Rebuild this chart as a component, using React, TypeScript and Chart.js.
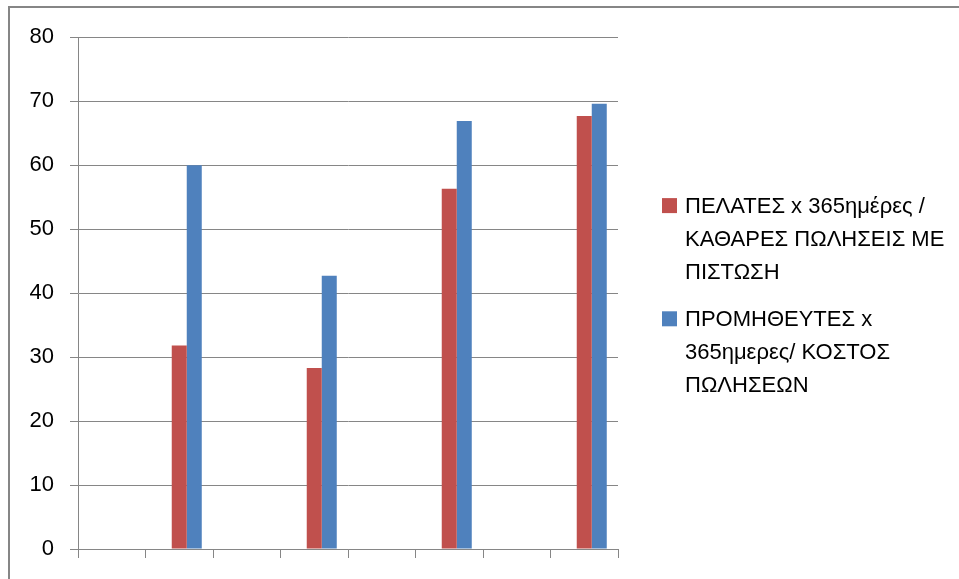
import React, { useEffect, useRef } from "react";
import { Chart, registerables } from "chart.js";

Chart.register(...registerables);

// Data
const categories = ["", "", "", "", "", "", "", ""];
const emptySeries = [null, null, null, null, null, null, null, null];
const customerDays = [null, 31.8, null, 28.3, null, 56.3, null, 67.7];
const supplierDays = [null, 60.0, null, 42.7, null, 66.9, null, 69.6];
const customerLabel = ["ΠΕΛΑΤΕΣ x 365ημέρες /", "ΚΑΘΑΡΕΣ ΠΩΛΗΣΕΙΣ ΜΕ", "ΠΙΣΤΩΣΗ"];
const supplierLabel = ["ΠΡΟΜΗΘΕΥΤΕΣ x", "365ημερες/ ΚΟΣΤΟΣ", "ΠΩΛΗΣΕΩΝ"];
const yMin = 0;
const yMax = 80;
const yStep = 10;

const RED = "#C0504D";
const BLUE = "#4F81BD";
const GRID = "#868686";
const FONT = "'Liberation Sans', Arial, sans-serif";

const legendLines = [customerLabel, supplierLabel];

const sideLegend = {
  id: "sideLegend",
  afterDraw(chart: any) {
    const ctx = chart.ctx;
    const items = chart.data.datasets
      .filter((ds: any) => ds.legendIndex !== undefined)
      .map((ds: any) => ({ lines: legendLines[ds.legendIndex], color: ds.backgroundColor }));
    const lineH = 33.3;
    const gap = 13.3;
    const box = 15;
    const total =
      items.reduce((s: number, it: any) => s + it.lines.length * lineH, 0) + gap * (items.length - 1);
    let y = chart.height / 2 - total / 2 + 2;
    const x = chart.chartArea.right + 44;
    ctx.save();
    ctx.font = `22px ${FONT}`;
    ctx.textBaseline = "middle";
    ctx.textAlign = "left";
    items.forEach((it: any) => {
      const cy = y + lineH / 2;
      ctx.fillStyle = it.color;
      ctx.fillRect(x, cy - box / 2, box, box);
      ctx.fillStyle = "#000000";
      it.lines.forEach((l: string, k: number) => ctx.fillText(l, x + 23, cy + 1 + k * lineH));
      y += it.lines.length * lineH + gap;
    });
    ctx.restore();
  },
};

export default function App() {
  const ref = useRef<HTMLCanvasElement | null>(null);

  useEffect(() => {
    if (!ref.current) return;
    const chart = new Chart(ref.current, {
      type: "bar",
      data: {
        labels: categories,
        datasets: [
          {
            label: "",
            data: emptySeries,
            backgroundColor: "rgba(0,0,0,0)",
          },
          {
            label: customerLabel.join(" "),
            data: customerDays,
            backgroundColor: RED,
            legendIndex: 0,
          } as any,
          {
            label: supplierLabel.join(" "),
            data: supplierDays,
            backgroundColor: BLUE,
            legendIndex: 1,
          } as any,
        ],
      },
      options: {
        responsive: false,
        animation: false,
        layout: { padding: { top: 29, right: 341, left: 0, bottom: 0 } },
        datasets: {
          bar: { categoryPercentage: 0.667, barPercentage: 1.0 },
        },
        plugins: {
          legend: { display: false },
          tooltip: { enabled: false },
        },
        scales: {
          x: {
            grid: {
              display: true,
              offset: true,
              drawOnChartArea: false,
              drawTicks: true,
              tickLength: 9,
              color: GRID,
              lineWidth: 1,
            },
            border: { display: true, color: GRID, width: 1 },
            ticks: { display: false },
            afterFit: (scale: any) => {
              scale.height = 30;
            },
          },
          y: {
            min: yMin,
            max: yMax,
            ticks: {
              stepSize: yStep,
              color: "#000000",
              padding: 16,
              font: { family: FONT, size: 22 },
            },
            grid: {
              color: GRID,
              lineWidth: 1,
              drawTicks: true,
              tickLength: 8,
            },
            border: { display: true, color: GRID, width: 1 },
            afterFit: (scale: any) => {
              scale.width = 68;
            },
          },
        },
      },
      plugins: [sideLegend],
    });
    return () => chart.destroy();
  }, []);

  return (
    <div
      style={{
        position: "fixed",
        left: 8,
        top: 6,
        width: 951,
        height: 573,
        borderTop: `2px solid ${GRID}`,
        borderLeft: `2px solid ${GRID}`,
        boxSizing: "border-box",
        background: "#ffffff",
      }}
    >
      <canvas ref={ref} width={949} height={571} style={{ display: "block" }} />
    </div>
  );
}
